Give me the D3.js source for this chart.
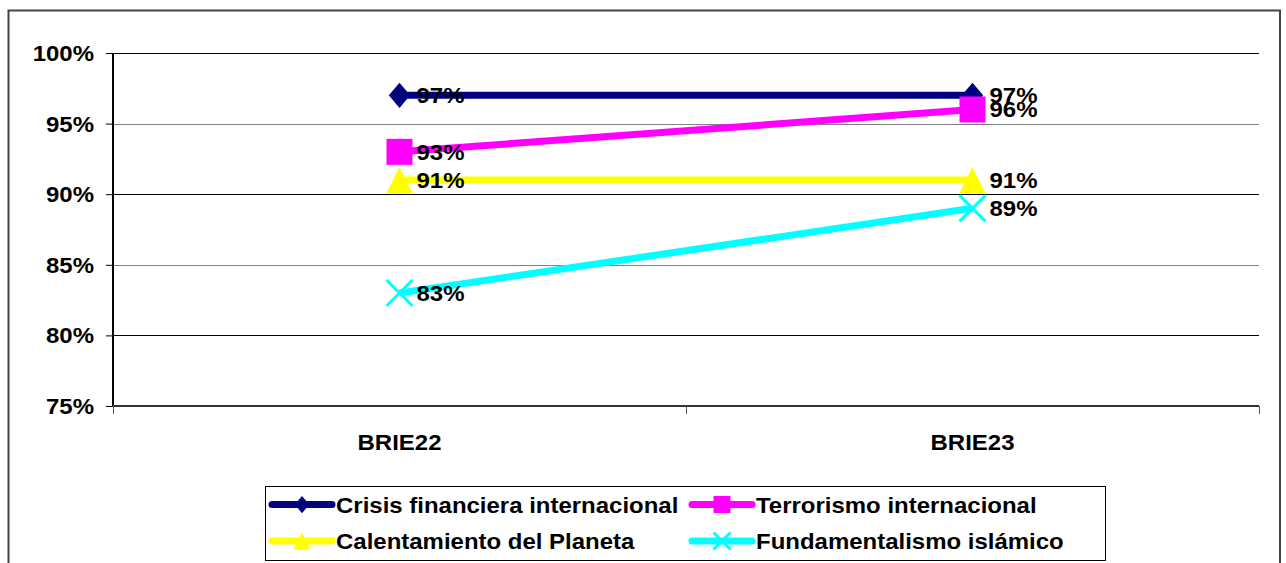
<!DOCTYPE html>
<html><head><meta charset="utf-8">
<script src="https://cdn.jsdelivr.net/npm/d3@7"></script>
<style>
html,body{margin:0;padding:0;background:#fff;}
svg{display:block;font-family:"Liberation Sans",Arial,sans-serif;font-weight:bold;}
</style></head>
<body>
<svg id="c" width="1286" height="563"></svg>
<script>
const categories = ["BRIE22", "BRIE23"];
const seriesNames = ["Crisis financiera internacional", "Terrorismo internacional", "Calentamiento del Planeta", "Fundamentalismo islámico"];
const crisis = [0.97, 0.97];
const terrorismo = [0.93, 0.96];
const calentamiento = [0.91, 0.91];
const fundamentalismo = [0.83, 0.89];
const yTicks = [0.75, 0.80, 0.85, 0.90, 0.95, 1.00];
const colors = ["#000080", "#FF00FF", "#FFFF00", "#00FFFF"];
const shapes = ["diamond", "square", "triangle", "x"];

const seriesValues = [crisis, terrorismo, calentamiento, fundamentalismo];
const series = seriesNames.map((n, i) => ({name: n, values: seriesValues[i], color: colors[i], shape: shapes[i]}));

const svg = d3.select("#c");
const L = 113, R = 1259, T = 53, B = 406;
const FS = 22, SX = 1.09;

const x = d3.scaleBand().domain(categories).range([L, R]);
const cx = c => x(c) + x.bandwidth() / 2;
const y = d3.scaleLinear().domain([0.75, 1.0]).range([B, T]);
const fmt = d3.format(".0%");

// outer border
svg.append("rect").attr("x", 8.5).attr("y", 10.5).attr("width", 1271.5).attr("height", 580)
  .attr("fill", "#fff").attr("stroke", "#444").attr("stroke-width", 2);

function txt(g, s, tx, ty, anchor) {
  return g.append("text").attr("transform", `translate(${tx},${ty}) scale(${SX},1)`)
    .attr("text-anchor", anchor || "start").attr("font-size", FS).attr("fill", "#000").text(s);
}

// gridlines
const grid = svg.append("g");
yTicks.filter(t => t > 0.75).forEach((t, i) => {
  grid.append("line").attr("x1", L).attr("x2", R).attr("y1", Math.round(y(t)) + 0.5).attr("y2", Math.round(y(t)) + 0.5)
    .attr("stroke", i % 2 === 0 ? "#000" : "#808080").attr("stroke-width", 1);
});

// y axis
const yAxis = svg.append("g").attr("transform", `translate(${L},0)`)
  .call(d3.axisLeft(y).tickValues(yTicks).tickSize(7).tickFormat(""));
yAxis.select(".domain").attr("stroke", "#000").attr("stroke-width", 2).attr("d", `M0,${T}V${B}`);
yAxis.selectAll(".tick line").attr("stroke", "#000").attr("stroke-width", 1);
yTicks.forEach(t => txt(svg, fmt(t), 94, y(t) + 8, "end"));

// x axis
const xAxis = svg.append("g").attr("transform", `translate(0,${B})`);
xAxis.append("line").attr("x1", L).attr("x2", R).attr("y1", 0).attr("y2", 0).attr("stroke", "#333").attr("stroke-width", 2);
const bounds = [x(categories[0]), ...categories.map(c => x(c) + x.bandwidth())];
bounds.forEach(b => xAxis.append("line").attr("x1", Math.round(b) + 0.5).attr("x2", Math.round(b) + 0.5)
  .attr("y1", 0).attr("y2", 8).attr("stroke", "#555").attr("stroke-width", 1));
categories.forEach(c => txt(svg, c, cx(c), 450, "middle"));

function marker(g, shape, px, py, s, color) {
  const h = s / 2;
  if (shape === "diamond") {
    g.append("path").attr("d", `M${px},${py - h * 1.15}L${px + h * 0.97},${py}L${px},${py + h * 1.15}L${px - h * 0.97},${py}Z`).attr("fill", color);
  } else if (shape === "square") {
    g.append("rect").attr("x", px - h).attr("y", py - h).attr("width", s).attr("height", s).attr("fill", color);
  } else if (shape === "triangle") {
    g.append("path").attr("d", `M${px},${py - h}L${px + h},${py + h}L${px - h},${py + h}Z`).attr("fill", color);
  } else {
    g.append("path").attr("d", `M${px - h},${py - h}L${px + h},${py + h}M${px - h},${py + h}L${px + h},${py - h}`)
      .attr("stroke", color).attr("stroke-width", 3).attr("fill", "none");
  }
}

// series
const line = d3.line().x((d, i) => cx(categories[i])).y(d => y(d));
const plot = svg.append("g");
series.forEach(s => {
  plot.append("path").attr("d", line(s.values)).attr("fill", "none").attr("stroke", s.color).attr("stroke-width", 7);
  s.values.forEach((v, i) => marker(plot, s.shape, cx(categories[i]), y(v), s.shape === "diamond" ? 22 : 26, s.color));
});
series.forEach(s => {
  s.values.forEach((v, i) => txt(svg, fmt(v), cx(categories[i]) + 17, y(v) + 8, "start"));
});

// legend
const lg = svg.append("g");
lg.append("rect").attr("x", 265.5).attr("y", 486.5).attr("width", 840).attr("height", 74)
  .attr("fill", "#fff").attr("stroke", "#000").attr("stroke-width", 1);
series.forEach((s, i) => {
  const col = i % 2, row = Math.floor(i / 2);
  const lx = 272 + col * 420, ly = 504.5 + row * 36.5;
  lg.append("line").attr("x1", lx).attr("x2", lx + 60).attr("y1", ly).attr("y2", ly)
    .attr("stroke", s.color).attr("stroke-width", 7).attr("stroke-linecap", "round");
  marker(lg, s.shape, lx + 30, ly, s.shape === "diamond" ? 15 : 17, s.color);
  txt(lg, s.name, lx + 64, ly + 8, "start");
});
</script>
</body></html>
